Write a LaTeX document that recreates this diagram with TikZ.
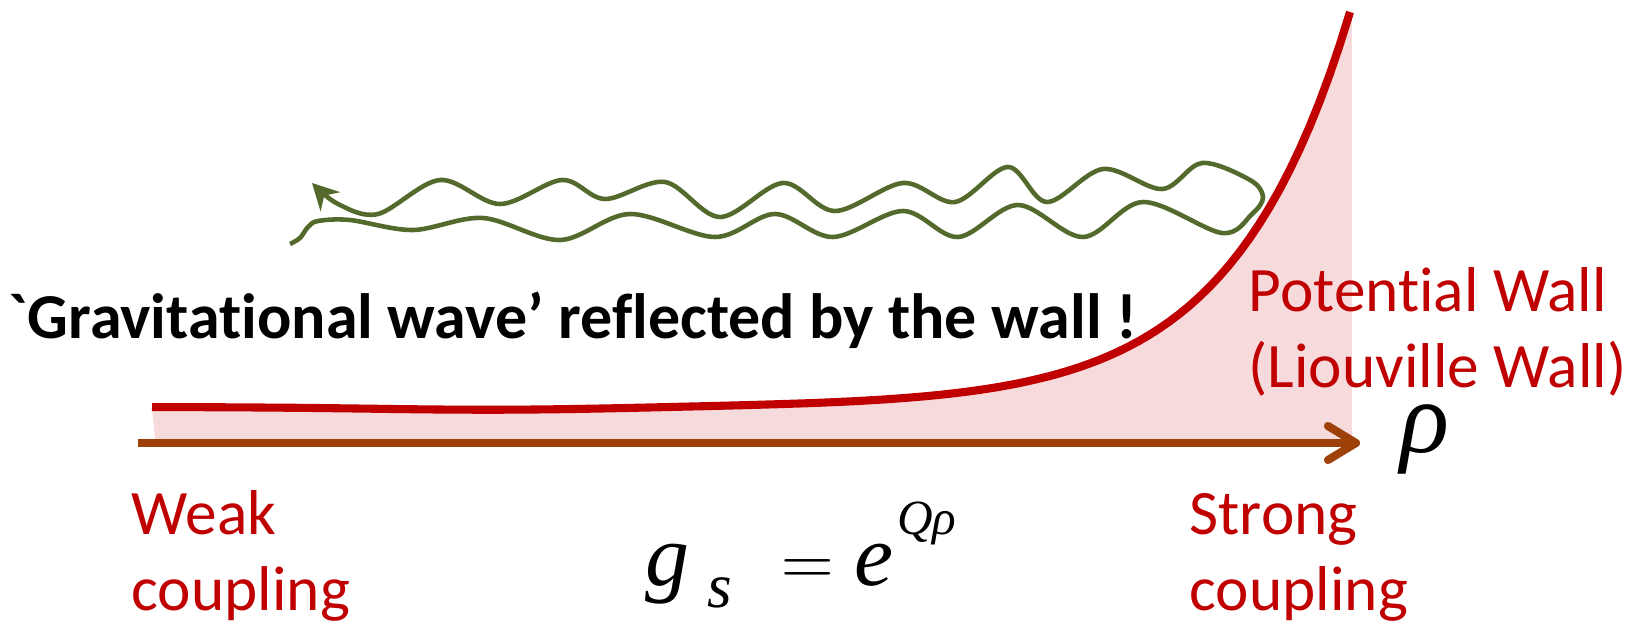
\documentclass[tikz,border=0pt]{standalone}
\usepackage{amsmath}
\usepackage{fontspec}
\setmainfont{Carlito}[Ligatures=NoCommon]
\newfontfamily\timesfont{Liberation Serif}
\usepackage{xcolor}
\definecolor{wallRed}{RGB}{192,0,0}
\definecolor{wallFill}{RGB}{247,218,220}
\definecolor{axisBrown}{RGB}{157,65,8}
\definecolor{waveGreen}{RGB}{84,106,45}
\usepackage{tikz}
\usetikzlibrary{arrows.meta,positioning}
\tikzstyle{redlabel}=[text=wallRed, font=\fontsize{18}{21.34}\selectfont, align=left, anchor=base west, inner sep=0pt]
\tikzstyle{headline}=[font=\bfseries\fontsize{18.2}{22}\selectfont, anchor=base west, inner sep=0pt]
\tikzstyle{formula}=[font=\timesfont\itshape\fontsize{25}{30}\selectfont, anchor=base west, inner sep=0pt]
\tikzstyle{wallline}=[draw=wallRed, line width=2.3pt]
\tikzstyle{axisarrow}=[-{Straight Barb[length=0.28cm, width=0.34cm, round]}, line width=2.3pt, color=axisBrown]
\tikzstyle{wavestyle}=[-{Stealth[length=0.26cm, width=0.27cm]}, line width=1.3pt, color=waveGreen]

\begin{document}
\begin{tikzpicture}[x=0.01cm, y=-0.01cm]
    \useasboundingbox (0,0) rectangle (1646,621);

    % Potential wall (filled region + red curve)
    \fill[wallFill] plot[domain=152:1350, samples=120] (\x, {407 + 3*exp(-((\x-500)/180)^2) - 395*exp((\x-1350)/118)})
          -- (1352,20) -- (1352,440) -- (155,440) -- cycle;
    \draw[wallline] plot[domain=152:1350, samples=120] (\x, {407 + 3*exp(-((\x-500)/180)^2) - 395*exp((\x-1350)/118)});

    % Axis rho
    \coordinate (axisL) at (138,443);
    \coordinate (axisR) at (1360,443);
    \draw[axisarrow] (axisL) -- (axisR);
    \node[formula, font=\timesfont\itshape\fontsize{29}{34}\selectfont] (rho) at (1400,452) {ρ};

    % Wave going in and reflected back
    \draw[wavestyle] plot[smooth, tension=0.55] coordinates {(290,244) (300,238) (308,227) (318,221) (350,220) (413,230) (483,218) (560,240) (630,214) (715,237) (775,214) (833,237) (903,211) (958,237) (1018,205) (1083,237) (1143,202) (1222,233) (1252,214) (1263,197) (1250,180) (1202,163) (1162,189) (1103,169) (1047,202) (1008,167) (955,202) (903,183) (835,211) (783,183) (720,217) (665,182) (605,199) (562,180) (500,204) (440,180) (378,214) (338,204) (312,183)};

    % Labels (anchored at the baseline of the last line)
    \node[headline] (caption) at (8,338) {\textasciigrave Gravitational wave’ reflected by the wall !};
    \node[redlabel] (wall) at (1248,387) {Potential Wall\\(Liouville Wall)};
    \node[redlabel] (weak) at (131,610) {Weak\\coupling};
    \node[redlabel] (strong) at (1189,610) {Strong\\coupling};
    \node[formula] (coupling) at (645,585) {g\kern5pt\raisebox{-6.5pt}{\fontsize{18}{20}\selectfont s}\kern14pt{\upshape\fontsize{20}{24}\selectfont$=$}\kern6pt e\kern1pt\raisebox{14.5pt}{\fontsize{14}{16}\selectfont Qρ}};
\end{tikzpicture}
\end{document}
